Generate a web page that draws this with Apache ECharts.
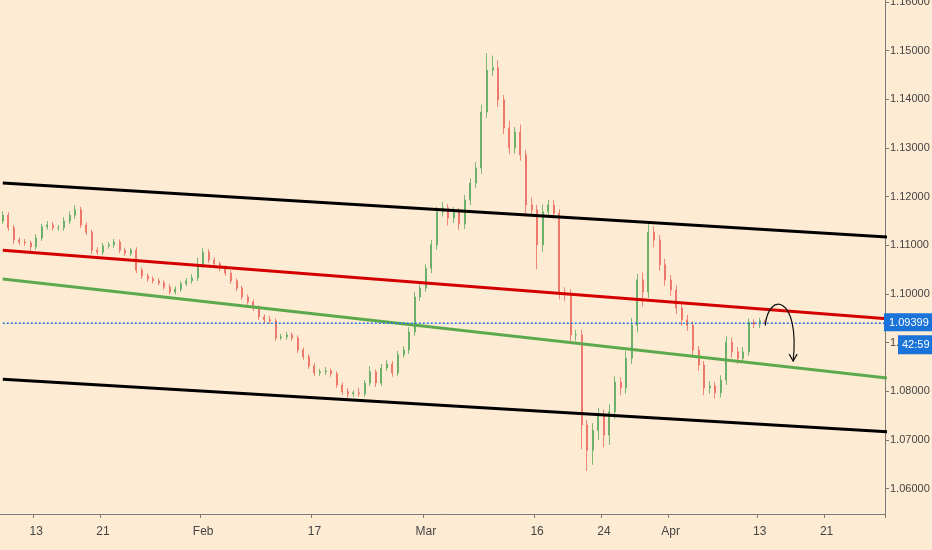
<!DOCTYPE html>
<html><head><meta charset="utf-8">
<script src="https://cdn.jsdelivr.net/npm/echarts@6/dist/echarts.min.js"></script>
<style>html,body{margin:0;padding:0;background:#fdebd3}#c{width:932px;height:550px}</style>
</head><body><div id="c"></div>
<script>
const closes = [1.1162,1.1136,1.1111,1.1107,1.1105,1.1097,1.1115,1.1138,1.1142,1.1136,
1.1136,1.1150,1.1162,1.1173,1.1142,1.1127,1.1090,1.1086,1.1099,1.1101,
1.1107,1.1090,1.1084,1.1090,1.1049,1.1037,1.1031,1.1027,1.1023,1.1014,
1.1004,1.1010,1.1021,1.1027,1.1033,1.1060,1.1086,1.1070,1.1062,1.1053,
1.1043,1.1027,1.1012,1.0994,1.0984,1.0971,1.0953,1.0947,1.0945,1.0910,
1.0912,1.0916,1.0910,1.0885,1.0871,1.0852,1.0838,1.0840,1.0842,1.0836,
1.0813,1.0799,1.0795,1.0797,1.0795,1.0817,1.0840,1.0817,1.0848,1.0856,
1.0838,1.0875,1.0885,1.0922,1.0994,1.1012,1.1053,1.1101,1.1169,1.1177,
1.1156,1.1169,1.1144,1.1193,1.1228,1.1259,1.1374,1.1460,1.1465,1.1399,
1.1341,1.1300,1.1333,1.1286,1.1183,1.1173,1.1101,1.1169,1.1183,1.1166,
1.1004,1.0998,1.0916,1.0916,1.0731,1.0679,1.0720,1.0751,1.0710,1.0758,
1.0819,1.0807,1.0868,1.0936,1.1029,1.1004,1.1127,1.1111,1.1060,1.1029,
1.1008,1.0971,1.0947,1.0936,1.0885,1.0854,1.0807,1.0811,1.0797,1.0823,
1.0901,1.0881,1.0868,1.0881,1.0942,1.0938,1.0945,1.09399];
const firstOpen = 1.1150;
// wick extensions in pips (up / down)
const wickUp = [8,6,6,5,6,5,8,6,8,6, 6,8,8,10,6,5,5,6,6,6, 6,5,5,5,6,5,5,5,5,5,
6,6,6,6,8,15,8,6,5,5, 6,5,5,5,5,5,6,5,8,5, 6,6,5,5,5,5,6,6,8,5, 5,5,8,5,10,6,12,5,8,8,
6,8,8,10,10,8,8,10,10,12, 8,10,8,10,10,12,15,35,25,15, 10,15,10,15,10,15,10,15,10,10,
8,10,12,10,10,10,15,15,12,15, 12,10,15,15,12,15,20,12,10,12, 10,10,8,10,8,8,8,10,8,10,
12,10,10,10,8,6,6,4];
const wickDn = [6,6,8,6,6,10,6,6,6,6, 6,6,6,8,6,6,8,6,6,6, 6,6,6,6,6,6,6,5,5,5,
5,5,6,5,6,6,6,6,6,6, 6,6,6,6,6,6,6,8,6,6, 5,6,6,6,6,6,6,6,6,6, 6,6,8,6,6,6,6,8,6,6,
8,6,6,8,8,8,8,10,10,10, 15,10,12,10,10,10,12,12,12,15, 12,12,12,12,20,15,50,15,12,12,
15,12,15,12,50,43,30,20,25,20, 15,15,12,12,15,30,12,15,12,12, 12,12,12,12,12,12,15,12,12,10,
10,12,12,10,8,8,8,6];
const tickBars = [6,18,36,56,76,96,108,120,136,148];
const tickNames = ['13','21','Feb','17','Mar','16','24','Apr','13','21'];
const priceTicks = [1.06,1.07,1.08,1.09,1.10,1.11,1.12,1.13,1.14,1.15,1.16];
const slotCount = 159;
const lastPrice = 1.09399;
const countdown = '42:59';
// trend lines: [start price, end price]
const blackUpper = [1.1228, 1.1117];
const blackLower = [1.0825, 1.0717];
const redLine = [1.1090, 1.0949];
const greenLine = [1.1031, 1.0827];

const font = 'Liberation Sans Narrow, Arial Narrow, sans-serif';
const cats = Array.from({length: slotCount}, (_, i) => String(i));
const candles = closes.map((c, i) => {
  const o = i === 0 ? firstOpen : closes[i - 1];
  return [o, c, +(Math.min(o, c) - wickDn[i] * 1e-4).toFixed(5), +(Math.max(o, c) + wickUp[i] * 1e-4).toFixed(5)];
});
const tl = (p, color) => ({type: 'line', data: [[-0.5, p[0]], [slotCount - 0.5, p[1]]], symbol: 'none',
  lineStyle: {color, width: 3}, z: 3, silent: true, animation: false, clip: true});

const chart = echarts.init(document.getElementById('c'));
chart.setOption({
  backgroundColor: '#fdebd3',
  animation: false,
  grid: {left: 0, right: 47, top: 0, bottom: 36, outerBoundsMode: 'none', containLabel: false},
  xAxis: {type: 'category', data: cats, boundaryGap: true,
    axisLine: {lineStyle: {color: '#7a7a7a'}},
    axisTick: {show: true, length: 4, interval: (i) => tickBars.includes(i), lineStyle: {color: '#7a7a7a'}},
    axisLabel: {interval: (i) => tickBars.includes(i), formatter: (v, i) => tickNames[tickBars.indexOf(+v)] || '',
      color: '#444', fontSize: 12, fontFamily: font, margin: 12},
    splitLine: {show: false}},
  yAxis: {type: 'value', position: 'right', min: 1.05479, max: 1.16042, scale: true,
    axisLine: {show: true, lineStyle: {color: '#7a7a7a'}},
    axisTick: {show: true, length: 4, inside: false, customValues: priceTicks, lineStyle: {color: '#7a7a7a'}},
    axisLabel: {customValues: priceTicks, formatter: v => v.toFixed(5), color: '#444', fontSize: 11, margin: 5, fontFamily: font},
    splitLine: {show: false}},
  series: [
    tl(blackUpper, '#000'), tl(blackLower, '#000'), tl(redLine, '#d40000'), tl(greenLine, '#5ba94c'),
    {type: 'line', data: [[-0.5, lastPrice], [slotCount - 0.5, lastPrice]], symbol: 'none', z: 4, silent: true,
      lineStyle: {color: '#1a73d9', type: [2, 2], width: 1.5}},
    {type: 'candlestick', data: candles, barWidth: 1.5, z: 2,
      itemStyle: {color: '#4a9f52', color0: '#e8534a', borderColor: '#5aaa5e', borderColor0: '#ec6a5f', borderWidth: 1, opacity: 0.8}}
  ]
});
const pl = chart.convertToPixel({gridIndex: 0}, [0, lastPrice]);
const p0 = chart.convertToPixel({gridIndex: 0}, [137, lastPrice]);
const p1 = chart.convertToPixel({gridIndex: 0}, [142, 1.0862]);
const pk = chart.convertToPixel({gridIndex: 0}, [140, 1.0975]);
chart.setOption({graphic: [
  {type: 'bezierCurve', shape: {x1: p0[0], y1: p0[1] + 2, cpx1: pk[0] - 14, cpy1: pk[1] - 14, cpx2: pk[0] + 18, cpy2: pk[1] - 12, x2: p1[0], y2: p1[1]},
    style: {stroke: '#111', lineWidth: 1.2, fill: null}, z: 10},
  {type: 'polyline', shape: {points: [[p1[0] - 4, p1[1] - 7], [p1[0], p1[1]], [p1[0] + 4, p1[1] - 7]]},
    style: {stroke: '#111', lineWidth: 1.2, fill: null}, z: 10},
  {type: 'rect', shape: {x: 884, y: pl[1] - 10, width: 48, height: 18}, style: {fill: '#1a73d9'}, z: 20},
  {type: 'text', x: 889, y: pl[1] - 6, style: {text: lastPrice.toFixed(5), fill: '#fff', fontSize: 11, fontFamily: font}, z: 21},
  {type: 'rect', shape: {x: 898, y: pl[1] + 12, width: 34, height: 19}, style: {fill: '#1a73d9'}, z: 20},
  {type: 'text', x: 902, y: pl[1] + 16, style: {text: countdown, fill: '#fff', fontSize: 11, fontFamily: font}, z: 21}
]});
</script></body></html>
